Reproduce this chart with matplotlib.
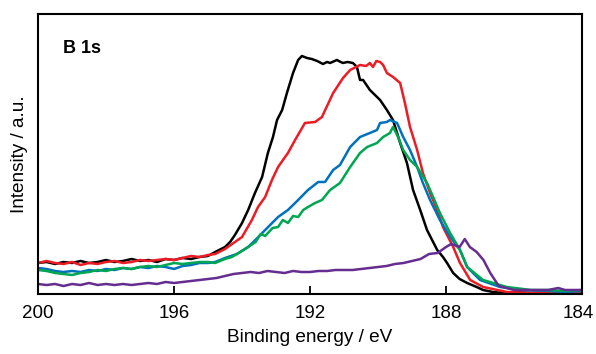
import matplotlib
matplotlib.use('Agg')
import matplotlib.pyplot as plt
import matplotlib.transforms as mtransforms

plt.rcParams['font.family'] = ['Liberation Sans', 'DejaVu Sans']

# binding energies (eV) and intensities (a.u.)
e_black = [200.0, 199.75, 199.5, 199.25, 199.0, 198.75, 198.5, 198.25, 198.0, 197.75, 197.5, 197.25,
           197.0, 196.75, 196.5, 196.25, 196.0, 195.75, 195.5, 195.25, 195.0, 194.79, 194.5, 194.35,
           194.21, 194.0, 193.82, 193.62, 193.41, 193.24, 193.09, 192.97, 192.82, 192.68, 192.5, 192.35,
           192.24, 192.09, 191.95, 191.79, 191.62, 191.5, 191.41, 191.21, 191.1, 191.03, 190.9, 190.74,
           190.62, 190.53, 190.44, 190.24, 189.94, 189.74, 189.56, 189.35, 189.15, 188.97, 188.76, 188.56,
           188.26, 188.09, 187.97, 187.79, 187.6, 187.38, 187.1, 186.91, 186.62, 186.3, 186.0, 185.5,
           185.0, 184.5, 184.0]
i_black = [31, 32, 30, 32, 31, 33, 31, 32, 34, 32, 33, 35,
           33, 34, 32, 35, 34, 36, 35, 37, 38, 42, 47, 52,
           59, 71, 84, 101, 117, 141, 157, 174, 184, 201, 221, 234,
           238, 236, 235, 233, 230, 232, 231, 234, 232, 231, 232, 231,
           227, 214, 214, 204, 194, 184, 174, 151, 131, 104, 84, 64,
           44, 37, 31, 21, 15, 11, 7, 4, 2, 1, 2, 1,
           2, 1, 1]

e_red = [200.0, 199.75, 199.5, 199.25, 199.0, 198.75, 198.5, 198.25, 198.0, 197.75, 197.5, 197.25,
         197.0, 196.75, 196.5, 196.25, 196.0, 195.75, 195.5, 195.25, 195.0, 194.79, 194.5, 194.0,
         193.71, 193.53, 193.32, 193.12, 192.94, 192.65, 192.44, 192.15, 191.85, 191.65, 191.32, 191.03,
         190.82, 190.53, 190.35, 190.24, 190.15, 190.05, 189.94, 189.85, 189.74, 189.56, 189.35, 189.21,
         189.06, 188.85, 188.68, 188.47, 188.26, 188.09, 187.79, 187.59, 187.29, 186.91, 186.21, 185.5,
         185.0, 184.5, 184.0]
i_red = [31, 33, 31, 30, 32, 29, 31, 30, 32, 33, 31, 32,
         34, 33, 34, 35, 34, 36, 38, 37, 39, 40, 45, 57,
         74, 87, 97, 114, 127, 141, 154, 171, 172, 177, 201, 216,
         224, 229, 228, 231, 227, 233, 232, 229, 221, 217, 211, 191,
         167, 144, 121, 101, 84, 67, 47, 31, 14, 7, 2, 1,
         2, 1, 2]

e_blue = [200.0, 199.75, 199.5, 199.25, 199.0, 198.75, 198.5, 198.25, 198.0, 197.75, 197.5, 197.25,
          197.0, 196.75, 196.5, 196.25, 196.0, 195.75, 195.5, 195.25, 195.0, 194.79, 194.5, 194.15,
          193.82, 193.55, 193.32, 192.94, 192.65, 192.35, 192.06, 191.76, 191.56, 191.32, 191.12, 190.82,
          190.53, 190.24, 190.03, 189.94, 189.74, 189.65, 189.44, 189.26, 189.06, 188.85, 188.68, 188.47,
          188.18, 187.88, 187.59, 187.38, 187.0, 186.41, 185.74, 185.0, 184.5, 184.0]
i_blue = [26, 25, 23, 22, 23, 22, 24, 23, 25, 24, 26, 25,
          27, 26, 28, 27, 25, 28, 29, 31, 31, 32, 36, 40,
          47, 56, 64, 77, 84, 94, 104, 112, 112, 124, 129, 147,
          157, 161, 164, 171, 172, 174, 171, 157, 144, 127, 111, 94,
          74, 57, 44, 27, 14, 7, 4, 3, 2, 3]

e_green = [200.0, 199.75, 199.5, 199.25, 199.0, 198.75, 198.5, 198.25, 198.0, 197.75, 197.5, 197.25,
           197.0, 196.75, 196.5, 196.25, 196.0, 195.75, 195.5, 195.25, 195.0, 194.79, 194.5, 194.3,
           194.1, 193.82, 193.6, 193.45, 193.32, 193.1, 192.94, 192.8, 192.65, 192.5, 192.35, 192.2,
           192.06, 191.85, 191.65, 191.41, 191.12, 190.82, 190.53, 190.32, 190.03, 189.85, 189.65, 189.56,
           189.41, 189.26, 189.06, 188.85, 188.56, 188.38, 188.18, 187.88, 187.59, 187.38, 186.91, 186.21,
           185.5, 185.0, 184.5, 184.0]
i_green = [24, 23, 21, 20, 19, 21, 22, 24, 23, 25, 26, 25,
           27, 28, 27, 29, 31, 30, 31, 32, 32, 31, 35, 37,
           41, 47, 52, 60, 58, 66, 67, 74, 71, 78, 77, 84,
           87, 91, 94, 104, 111, 127, 141, 147, 151, 157, 161, 167,
           157, 144, 134, 127, 111, 97, 81, 61, 44, 27, 14, 7,
           4, 4, 3, 4]

e_purple = [200.0, 199.75, 199.5, 199.25, 199.0, 198.75, 198.5, 198.25, 198.0, 197.75, 197.5, 197.25,
            197.0, 196.75, 196.5, 196.25, 196.0, 195.75, 195.5, 195.25, 195.0, 194.75, 194.5, 194.25,
            194.0, 193.75, 193.5, 193.25, 193.0, 192.75, 192.5, 192.25, 192.0, 191.75, 191.5, 191.25,
            191.0, 190.75, 190.5, 190.25, 190.0, 189.75, 189.5, 189.25, 189.0, 188.75, 188.5, 188.25,
            188.0, 187.85, 187.6, 187.45, 187.3, 187.1, 186.9, 186.7, 186.45, 186.0, 185.5, 185.0,
            184.7, 184.5, 184.0]
i_purple = [10, 9, 10, 8, 10, 9, 11, 9, 10, 9, 10, 9,
            10, 11, 10, 12, 11, 12, 13, 14, 15, 16, 18, 20,
            21, 22, 21, 23, 22, 21, 23, 22, 22, 23, 23, 24,
            24, 24, 25, 26, 27, 28, 30, 31, 33, 35, 40, 41,
            47, 50, 47, 55, 47, 42, 34, 21, 8, 4, 4, 4,
            6, 4, 4]

series = [
    (e_black, i_black, '#000000'),
    (e_red, i_red, '#ed1c24'),
    (e_blue, i_blue, '#0071bc'),
    (e_green, i_green, '#00a651'),
    (e_purple, i_purple, '#662d91'),
]

fig = plt.figure(figsize=(5.96, 3.54), dpi=100)
ax = fig.add_axes([0.0638, 0.1695, 0.9128, 0.791])

for e, i, c in series:
    ax.plot(e, i, color=c, lw=1.8)

ax.set_xlim(200, 184)
ax.set_ylim(0, 280)
ax.set_xticks([200, 196, 192, 188, 184])
ax.set_yticks([])
ax.tick_params(axis='x', direction='in', length=6, width=1.3, labelsize=13.5, pad=8)
for s in ax.spines.values():
    s.set_linewidth(1.5)

# nudge the last tick label so it stays inside the figure
last = ax.get_xticklabels()[-1]
last.set_transform(last.get_transform() + mtransforms.ScaledTranslation(-4 / 100, 0, fig.dpi_scale_trans))

ax.set_xlabel('Binding energy / eV', fontsize=13.7, labelpad=5)
ax.set_ylabel('Intensity / a.u.', fontsize=13.7, labelpad=7)
ax.text(0.045, 0.86, 'B 1s', transform=ax.transAxes, fontsize=13, fontweight='bold')

fig.savefig('out.png', dpi=100)
